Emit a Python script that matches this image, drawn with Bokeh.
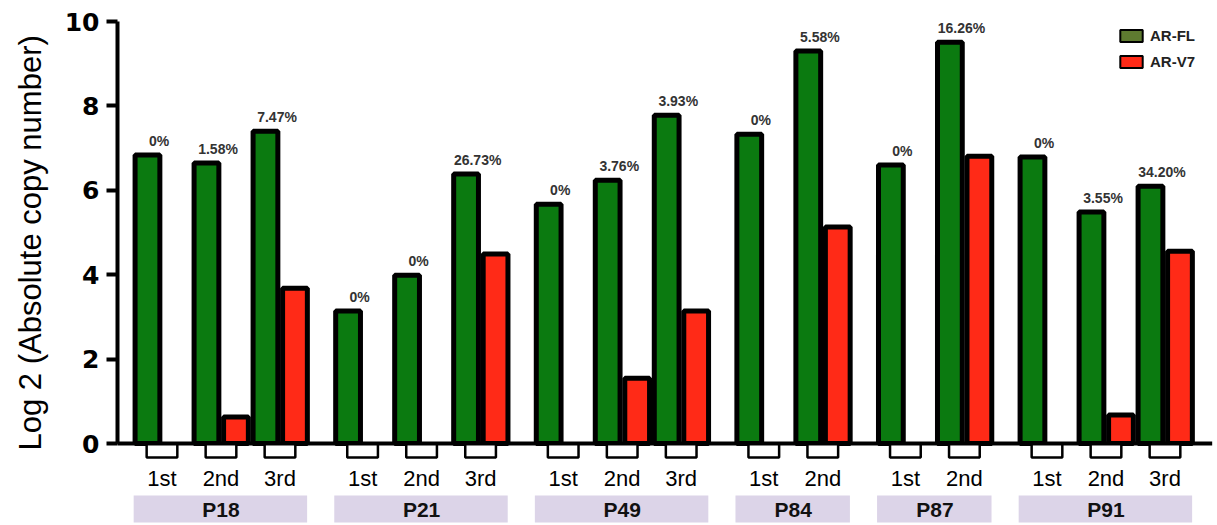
from bokeh.plotting import figure
from bokeh.models import Range1d, FixedTicker, ColumnDataSource, Legend, LegendItem, Title
from bokeh.embed import file_html
from bokeh.resources import INLINE
from bokeh.core.properties import value

# Patients and the number of sampled visits per patient
groups = ["P18", "P21", "P49", "P84", "P87", "P91"]
visits_per_group = [3, 3, 3, 2, 2, 3]
visit_names = ["1st", "2nd", "3rd",
               "1st", "2nd", "3rd",
               "1st", "2nd", "3rd",
               "1st", "2nd",
               "1st", "2nd",
               "1st", "2nd", "3rd"]

# Log2 absolute copy numbers per visit
ar_fl = [6.84, 6.65, 7.40,
         3.14, 3.99, 6.39,
         5.67, 6.24, 7.78,
         7.33, 9.30,
         6.60, 9.51,
         6.79, 5.49, 6.10]
ar_v7 = [0.0, 0.63, 3.68,
         0.0, 0.0, 4.49,
         0.0, 1.55, 3.14,
         0.0, 5.13,
         0.0, 6.81,
         0.0, 0.68, 4.56]
v7_share = ["0%", "1.58%", "7.47%",
            "0%", "0%", "26.73%",
            "0%", "3.76%", "3.93%",
            "0%", "5.58%",
            "0%", "16.26%",
            "0%", "3.55%", "34.20%"]
y_ticks = [0, 2, 4, 6, 8, 10]

GREEN = "#0b7a10"
RED = "#ff2a17"
LEGEND_GREEN = "#5e7a30"
BAND = "#dcd4e8"

# Each visit occupies one unit (AR-FL bar + AR-V7 bar); patients separated by a gap
GAP = 0.4
BAR_W = 0.42
starts = []
group_lo, group_hi = [], []
pos = 0.0
for n in visits_per_group:
    group_lo.append(pos)
    for k in range(n):
        starts.append(pos + k)
    group_hi.append(pos + n)
    pos += n + GAP
centers = [s + 0.5 for s in starts]
group_mid = [(a + b) / 2 for a, b in zip(group_lo, group_hi)]

x_lo = -0.254
x_hi = x_lo + 1100 / 59.0
y_lo, y_hi = -1.94, 10.38

p = figure(width=1217, height=525, output_backend="svg", toolbar_location=None,
           x_axis_type=None, x_range=Range1d(x_lo, x_hi), y_range=Range1d(y_lo, y_hi),
           min_border_left=117, min_border_right=0, min_border_top=5, min_border_bottom=0)
p.outline_line_color = None
p.ygrid.visible = False
p.background_fill_color = "white"

# y axis limited to the 0..10 span
ax = p.yaxis[0]
ax.bounds = (0, 10)
ax.ticker = FixedTicker(ticks=y_ticks)
ax.minor_tick_line_color = None
ax.axis_line_width = 4
ax.axis_line_color = "black"
ax.major_tick_line_width = 4
ax.major_tick_out = 11
ax.major_tick_in = 0
ax.major_label_standoff = 7
ax.major_label_text_font = "DejaVu Sans"
ax.major_label_text_font_style = "bold"
ax.major_label_text_font_size = "25px"
ax.major_label_text_color = "black"

# vertical axis title, starting level with the baseline
p.add_layout(Title(text="Log 2 (Absolute copy number)", align="left", offset=75,
                   vertical_align="top", standoff=24,
                   text_font="Liberation Sans", text_font_size="31px",
                   text_font_style="normal", text_color="black"), "left")

# bars
fl_src = ColumnDataSource(dict(x=[s + 0.254 for s in starts], top=ar_fl))
p.vbar(x="x", top="top", bottom=0, width=BAR_W, source=fl_src,
       fill_color=GREEN, line_color="black", line_width=5)

v7_x = [s + 0.754 for s, v in zip(starts, ar_v7) if v > 0]
v7_top = [v for v in ar_v7 if v > 0]
v7_src = ColumnDataSource(dict(x=v7_x, top=v7_top))
p.vbar(x="x", top="top", bottom=0, width=BAR_W, source=v7_src,
       fill_color=RED, line_color="black", line_width=5)

# small brackets below the baseline at each visit
p.quad(left=[c - 0.26 for c in centers], right=[c + 0.26 for c in centers],
       top=0, bottom=-0.33, fill_color="white", line_color="black", line_width=2.5)

# x axis baseline
p.segment(x0=[x_lo], y0=[0], x1=[18.3], y1=[0], line_color="black", line_width=4)

# AR-V7 share above each visit
lab_src = ColumnDataSource(dict(x=[c - 0.05 for c in centers], y=ar_fl, text=v7_share))
p.text(x="x", y="y", text="text", source=lab_src, text_align="center",
       text_baseline="bottom", y_offset=-6, text_font=value("Liberation Sans"),
       text_font_style="bold", text_font_size="14px", text_color="#333333")

# visit labels
vis_src = ColumnDataSource(dict(x=centers, y=[-0.83] * len(centers), text=visit_names))
p.text(x="x", y="y", text="text", source=vis_src, text_align="center",
       text_baseline="middle", text_font=value("Liberation Sans"),
       text_font_size="22px", text_color="black")

# patient bands
p.quad(left=[a + 0.02 for a in group_lo], right=[b - 0.04 for b in group_hi],
       top=-1.23, bottom=-1.87, fill_color=BAND, line_color=None)
grp_src = ColumnDataSource(dict(x=group_mid, y=[-1.56] * len(groups), text=groups))
p.text(x="x", y="y", text="text", source=grp_src, text_align="center",
       text_baseline="middle", text_font=value("Liberation Sans"),
       text_font_style="bold", text_font_size="21px", text_color="#111111")

# legend swatches (off-range rows, only used for the legend)
fl_leg = p.vbar(x=[-50], top=[1], width=0.4, fill_color=LEGEND_GREEN, line_color="black", line_width=2)
v7_leg = p.vbar(x=[-50], top=[1], width=0.4, fill_color=RED, line_color="black", line_width=2)
legend = Legend(items=[LegendItem(label="AR-FL", renderers=[fl_leg]),
                       LegendItem(label="AR-V7", renderers=[v7_leg])],
                location=(1000, 454), glyph_width=28, glyph_height=15,
                label_height=20, spacing=6, label_standoff=5, padding=10, margin=0,
                border_line_color=None, background_fill_alpha=0,
                label_text_font="Liberation Sans", label_text_font_style="bold",
                label_text_font_size="15px", label_text_color="#222222")
p.add_layout(legend)

open("out.html", "w").write(file_html(p, INLINE))
